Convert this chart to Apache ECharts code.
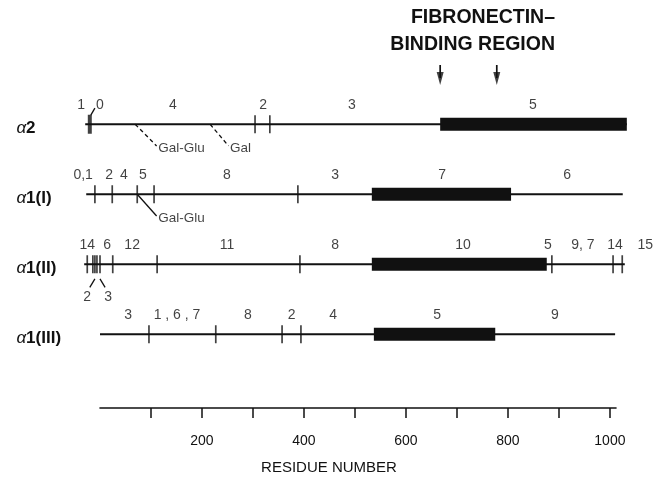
<!DOCTYPE html>
<html><head><meta charset="utf-8">
<script src="https://cdn.jsdelivr.net/npm/echarts@6/dist/echarts.min.js"></script>
<style>html,body{margin:0;padding:0;background:#fff}#c{width:662px;height:478px}</style>
</head><body><div id="c"></div>
<script>
// ---- data (residue numbers) ----
const chains = ['α2', 'α1(I)', 'α1(II)', 'α1(III)'];
const chainStart = [-29, -27, -31, 0];
const chainEnd = [1033, 1025, 1029, 1010];
const bindStart = [667, 533, 533, 537];
const bindEnd = [1033, 806, 876, 775];
const sitesA2 = [304, 333];
const sitesA1I = [-10, 24, 73, 106, 388];
const sitesA1II = [-25, -14, -10, -6, 0, 25, 112, 392, 886, 1006, 1024];
const sitesA1III = [96, 227, 357, 394];
const heavySitesA2 = [-20];
const fragA2 = [['1', -37], ['0', 0], ['4', 143], ['2', 320], ['3', 494], ['5', 849]];
const fragA1I = [['0,1', -33], ['2', 18], ['4', 47], ['5', 84], ['8', 249], ['3', 461], ['7', 671], ['6', 916]];
const fragA1II = [['14', -25], ['6', 14], ['12', 63], ['11', 249], ['8', 461], ['10', 712], ['5', 878], ['9, 7', 947], ['14', 1010], ['15', 1069]];
const fragA1III = [['3', 55], ['1 , 6 , 7', 151], ['8', 290], ['2', 376], ['4', 457], ['5', 661], ['9', 892]];
const fragBelowA1II = [['2', -25, -10, -20], ['3', 16, 0, 10]]; // text, label x, leader from, leader to
const glyco = [
  { chain: 0, site: 69, labelAt: 114, text: 'Gal-Glu', dashed: true },
  { chain: 0, site: 216, labelAt: 255, text: 'Gal', dashed: true },
  { chain: 1, site: 73, labelAt: 114, text: 'Gal-Glu', dashed: false }
];
const fnArrows = [667, 778];
const axisTickValues = [100, 200, 300, 400, 500, 600, 700, 800, 900, 1000];
const axisLabelValues = [200, 400, 600, 800, 1000];
const axisMax = 1012;

// ---- build ----
const INK = '#111';
const FONT = 'Liberation Sans, Arial, sans-serif';
const series = [];
const sitesByChain = [sitesA2, sitesA1I, sitesA1II, sitesA1III];
const fragsByChain = [fragA2, fragA1I, fragA1II, fragA1III];

chains.forEach((c, i) => {
  series.push({ type: 'line', xAxisIndex: 0, yAxisIndex: 0, data: [[chainStart[i], i], [chainEnd[i], i]],
    showSymbol: false, symbol: 'none', silent: true, lineStyle: { color: INK, width: 1.8 }, z: 2 });
  series.push({ type: 'line', xAxisIndex: 0, yAxisIndex: 0, data: [[bindStart[i], i], [bindEnd[i], i]],
    showSymbol: false, symbol: 'none', silent: true, lineStyle: { color: INK, width: 13, cap: 'butt' }, z: 3 });
});

const tickData = [];
sitesByChain.forEach((arr, i) => arr.forEach(x => tickData.push([x, i])));
series.push({ type: 'scatter', xAxisIndex: 0, yAxisIndex: 0, data: tickData, symbol: 'rect',
  symbolSize: [1.7, 18], itemStyle: { color: INK }, silent: true, z: 4 });
series.push({ type: 'scatter', xAxisIndex: 0, yAxisIndex: 0, data: heavySitesA2.map(x => [x, 0]), symbol: 'rect',
  symbolSize: [4, 19], itemStyle: { color: INK }, silent: true, z: 4 });

const labelData = [];
fragsByChain.forEach((arr, i) => arr.forEach(([t, x]) => labelData.push({ name: t, value: [x, i] })));
series.push({ type: 'scatter', xAxisIndex: 0, yAxisIndex: 0, data: labelData, symbolSize: 0, silent: true,
  label: { show: true, position: 'inside', offset: [0, -19], formatter: '{b}', color: INK, fontSize: 14, fontFamily: FONT }, z: 5 });

// leader from α2 tick to "0"
series.push({ type: 'line', xAxisIndex: 0, yAxisIndex: 0, data: [[-18, -0.13], [-10, -0.23]], symbol: 'none',
  silent: true, lineStyle: { color: INK, width: 1.3 } });

// labels below α1(II)
series.push({ type: 'scatter', xAxisIndex: 0, yAxisIndex: 0, data: fragBelowA1II.map(f => ({ name: f[0], value: [f[1], 2] })),
  symbolSize: 0, silent: true,
  label: { show: true, position: 'inside', offset: [0, 33], formatter: '{b}', color: INK, fontSize: 14, fontFamily: FONT } });
fragBelowA1II.forEach(f => {
  series.push({ type: 'line', xAxisIndex: 0, yAxisIndex: 0, data: [[f[2], 2.21], [f[3], 2.33]], symbol: 'none',
    silent: true, lineStyle: { color: INK, width: 1.3 } });
});

// glycosylation annotations
glyco.forEach(g => {
  series.push({ type: 'line', xAxisIndex: 0, yAxisIndex: 0, data: [[g.site, g.chain], [g.labelAt - 3, g.chain + 0.31]], symbol: 'none',
    silent: true, lineStyle: { color: INK, width: 1.3, type: g.dashed ? [4, 3] : 'solid' } });
});
series.push({ type: 'scatter', xAxisIndex: 0, yAxisIndex: 0, data: glyco.map(g => ({ name: g.text, value: [g.labelAt, g.chain + 0.34] })),
  symbolSize: 0, silent: true,
  label: { show: true, position: 'right', distance: 0, formatter: '{b}', color: INK, fontSize: 13.5, fontFamily: FONT } });

// fibronectin-binding arrows
fnArrows.forEach(x => {
  series.push({ type: 'line', xAxisIndex: 0, yAxisIndex: 0, data: [[x, -0.846], [x, -0.66]], symbol: 'none',
    silent: true, lineStyle: { color: INK, width: 1.7 } });
});
series.push({ type: 'scatter', xAxisIndex: 0, yAxisIndex: 0, data: fnArrows.map(x => [x, -0.655]), symbol: 'triangle',
  symbolRotate: 180, symbolSize: [7, 13], itemStyle: { color: INK }, silent: true });

// dummy series on axis grid
series.push({ type: 'line', xAxisIndex: 1, yAxisIndex: 1, data: [], silent: true });

const chart = echarts.init(document.getElementById('c'), null, { renderer: 'canvas' });
chart.setOption({
  backgroundColor: '#fff',
  animation: false,
  textStyle: { fontFamily: FONT },
  grid: [
    { left: 69.4, right: 1.0, top: 40.25, bottom: 108.75 },
    { left: 100, right: 46, top: 400, height: 8 }
  ],
  xAxis: [
    { type: 'value', gridIndex: 0, min: -60, max: 1100, show: false },
    { type: 'value', gridIndex: 1, min: 0, max: axisMax, position: 'bottom',
      axisLine: { show: true, lineStyle: { color: INK, width: 1.6 } },
      axisTick: { show: true, customValues: axisTickValues, length: 10, lineStyle: { color: INK, width: 1.5 } },
      axisLabel: { show: true, customValues: axisLabelValues, margin: 26, color: INK, fontSize: 14, fontFamily: FONT,
        formatter: v => String(v) },
      splitLine: { show: false } }
  ],
  yAxis: [
    { type: 'value', gridIndex: 0, min: -1.2, max: 3.5, inverse: true,
      axisLine: { show: false }, axisTick: { show: false }, splitLine: { show: false },
      axisLabel: { show: true, customValues: [0, 1, 2, 3], align: 'left', margin: 53, padding: [8, 0, 0, 0],
        formatter: v => { const n = chains[v]; return '{a|α}{b|' + n.slice(1) + '}'; },
        rich: { a: { fontStyle: 'italic', fontSize: 17, color: INK, fontFamily: FONT },
                b: { fontWeight: 'bold', fontSize: 17, color: INK, fontFamily: FONT } } } },
    { type: 'value', gridIndex: 1, show: false }
  ],
  graphic: [
    { type: 'text', style: { text: 'FIBRONECTIN–', x: 555, y: 18, align: 'right', verticalAlign: 'middle', fill: INK, font: 'bold 19.5px ' + FONT } },
    { type: 'text', style: { text: 'BINDING REGION', x: 555, y: 45, align: 'right', verticalAlign: 'middle', fill: INK, font: 'bold 19.5px ' + FONT } },
    { type: 'text', style: { text: 'RESIDUE NUMBER', x: 329, y: 468, align: 'center', verticalAlign: 'middle', fill: INK, font: '15px ' + FONT } }
  ],
  series: series
});
</script>
</body></html>
